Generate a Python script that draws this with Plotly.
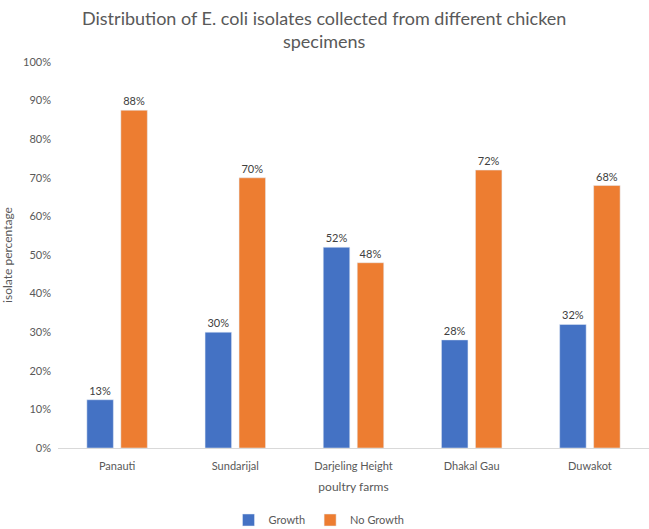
import plotly.graph_objects as go

farms = ["Panauti", "Sundarijal", "Darjeling Height", "Dhakal Gau", "Duwakot"]
growth = [12.5, 30, 52, 28, 32]
no_growth = [87.5, 70, 48, 72, 68]
y_ticks = list(range(0, 101, 10))
y_tick_labels = [f"{v}%" for v in y_ticks]
title_text = "Distribution of E. coli isolates collected from different chicken<br>specimens"

FONT = "Lato, Open Sans, sans-serif"
GREY = "#595959"

fig = go.Figure()
fig.add_trace(go.Bar(name="Growth", x=farms, y=growth, marker_color="#4472C4",
                     texttemplate="%{y:.0f}%", textposition="outside",
                     textfont=dict(size=11, color="#404040", family=FONT), cliponaxis=False))
fig.add_trace(go.Bar(name="No Growth", x=farms, y=no_growth, marker_color="#ED7D31",
                     texttemplate="%{y:.0f}%", textposition="outside",
                     textfont=dict(size=11, color="#404040", family=FONT), cliponaxis=False))

fig.update_layout(
    width=649, height=529,
    margin=dict(l=58, r=0, t=62, b=81),
    paper_bgcolor="white", plot_bgcolor="white",
    font=dict(family=FONT, color=GREY, size=11),
    barmode="group", bargap=0.425, bargroupgap=0.22,
    showlegend=True,
    legend=dict(orientation="h", xref="container", x=319 / 649, xanchor="center",
                yref="container", y=(529 - 520) / 529, yanchor="middle",
                font=dict(size=11, color=GREY), itemwidth=30, entrywidth=0,
                tracegroupgap=0),
)
fig.add_annotation(text=title_text, xref="paper", yref="paper",
                   x=(324 - 58) / 591, y=(448 - 5) / 386, xanchor="center", yanchor="top",
                   showarrow=False, font=dict(size=18, color=GREY, family=FONT))
fig.update_xaxes(showgrid=False, showline=True, linecolor="#D9D9D9", linewidth=1,
                 ticks="", tickfont=dict(size=11, color=GREY), ticklabelstandoff=8,
                 automargin=False,
                 title=dict(text="poultry farms", font=dict(size=12, color=GREY), standoff=11))
fig.update_yaxes(range=[0, 100], tickmode="array", tickvals=y_ticks, ticktext=y_tick_labels,
                 showgrid=False, zeroline=False, showline=False, ticks="",
                 tickfont=dict(size=11, color=GREY), ticklabelstandoff=6, automargin=False,
                 title=dict(text="isolate percentage", font=dict(size=12, color=GREY), standoff=12))

fig.write_html("out.html", config={"displayModeBar": False},
               post_script="document.body.style.margin='0';")
